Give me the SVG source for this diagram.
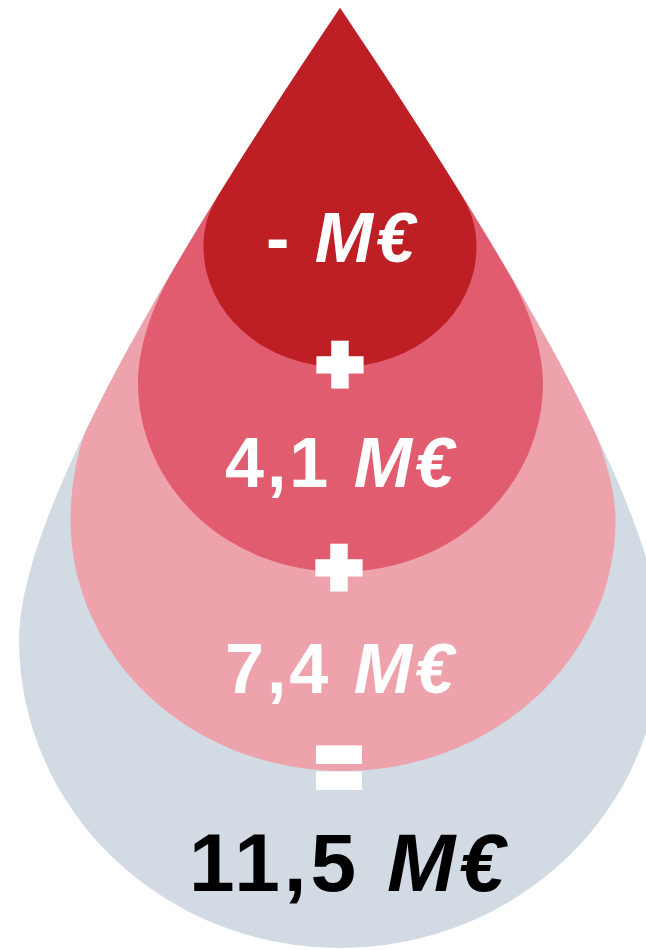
<svg xmlns="http://www.w3.org/2000/svg" width="646" height="950" viewBox="0 0 646 950">
  <style>
    .lbl { font-family: "Liberation Sans", Arial, sans-serif; font-weight: bold; text-anchor: middle; letter-spacing: 3px; }
    .w { fill: #FFFFFF; font-size: 70px; }
    .k { fill: #000000; font-size: 82px; letter-spacing: 4px; }
    .it { font-style: italic; }
    .op { font-family: "Liberation Sans", Arial, sans-serif; font-weight: bold; fill: #FFFFFF; stroke: #FFFFFF; text-anchor: middle; }
  </style>
  <defs>
    <clipPath id="outline">
      <path d="M340,8 C239.5,158 19,490 19,640 A321,308 0 0 0 661,640 C661,490 440.5,158 340,8 Z"/>
    </clipPath>
  </defs>
  <rect width="646" height="950" fill="#FFFFFF"/>

  <g id="drop-total">
    <path d="M340,8 C239.5,158 19,490 19,640 A321,308 0 0 0 661,640 C661,490 440.5,158 340,8 Z" fill="#D2DAE3"/>
    <text class="lbl k" x="349" y="891">11,5 <tspan class="it">M€</tspan></text>
  </g>

  <g id="drop-3">
    <path clip-path="url(#outline)" d="M70.5,520 A272.5,251 0 0 0 615.5,520 C615.5,490 603.4,449.3 591.16,424.3 L393.1,20 L340,-20 L286.9,20 L88.84,424.3 C76.6,449.3 70.5,490 70.5,520 Z" fill="#EEA2AC"/>
    <text class="lbl w" x="341" y="693">7,4 <tspan class="it">M€</tspan></text>
  </g>

  <g id="drop-2">
    <path clip-path="url(#outline)" d="M138,383 A202.5,189 0 0 0 543,383 C543,353 531.5,311.4 504.9,266.4 L359,20 L340,-20 L321,20 L175.1,266.4 C148.5,311.4 138,353 138,383 Z" fill="#E05C6E"/>
    <text class="lbl w" x="341" y="487">4,1 <tspan class="it">M€</tspan></text>
  </g>

  <g id="drop-1">
    <path clip-path="url(#outline)" d="M203.5,247 A136.5,120 0 0 0 476.5,247 C476.5,222 469.35,207.3 453.7,182.3 L352.1,20 L340,-20 L327.9,20 L226.3,182.3 C210.65,207.3 203.5,222 203.5,247 Z" fill="#BD1F25"/>
    <text class="lbl w" x="342" y="262">- <tspan class="it">M€</tspan></text>
  </g>

  <g id="operators">
    <text class="op" x="340" y="390" font-size="76" stroke-width="9">+</text>
    <text class="op" x="339" y="593" font-size="76" stroke-width="9">+</text>
    <text class="op" font-size="96" stroke-width="8" transform="translate(339,800) scale(0.82,1)">=</text>
  </g>
</svg>
